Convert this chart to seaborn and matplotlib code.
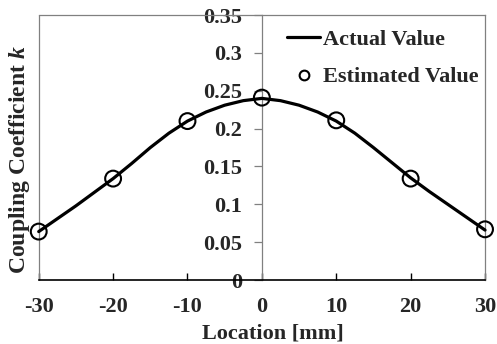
import matplotlib
matplotlib.use("Agg")
import matplotlib.pyplot as plt
import seaborn as sns
import pandas as pd
from matplotlib.lines import Line2D
from matplotlib.patches import Rectangle

# Coupling coefficient along the coil location
actual_loc = [-30, -27.5, -25, -22.5, -20, -17.5, -15, -12.5, -10, -7.5, -5, -2.5, 0,
              2.5, 5, 7.5, 10, 12.5, 15, 17.5, 20, 22.5, 25, 27.5, 30]
actual_k = [0.064, 0.081, 0.098, 0.116, 0.134, 0.154, 0.175, 0.194, 0.210, 0.222, 0.231, 0.237, 0.240,
            0.237, 0.231, 0.222, 0.210, 0.194, 0.175, 0.155, 0.135, 0.117, 0.100, 0.083, 0.066]
est_loc = [-30, -20, -10, 0, 10, 20, 30]
est_k = [0.064, 0.134, 0.210, 0.241, 0.211, 0.134, 0.067]

x_ticks = [-30, -20, -10, 0, 10, 20, 30]
y_ticks = [0, 0.05, 0.1, 0.15, 0.2, 0.25, 0.3, 0.35]
y_tick_labels = ["0", "0.05", "0.1", "0.15", "0.2", "0.25", "0.3", "0.35"]

sns.set_style("white")
plt.rcParams["font.family"] = ["Liberation Serif", "DejaVu Serif"]
plt.rcParams["font.weight"] = "bold"
plt.rcParams["axes.unicode_minus"] = False
plt.rcParams["mathtext.fontset"] = "custom"
plt.rcParams["mathtext.it"] = "Liberation Serif:italic:bold"
plt.rcParams["mathtext.rm"] = "Liberation Serif:bold"

FS = 16

fig = plt.figure(figsize=(4.97, 3.44), dpi=100)
ax = fig.add_axes([0.0779, 0.186, 0.898, 0.770])

df_a = pd.DataFrame({"loc": actual_loc, "k": actual_k})
df_e = pd.DataFrame({"loc": est_loc, "k": est_k})

sns.lineplot(data=df_a, x="loc", y="k", ax=ax, color="black", linewidth=2.3,
             legend=False, zorder=3, clip_on=False)
sns.scatterplot(data=df_e, x="loc", y="k", ax=ax, marker="o", s=130,
                facecolor="none", edgecolor="black", linewidth=1.5,
                legend=False, zorder=4, clip_on=False)

ax.set_xlim(-30, 30)
ax.set_ylim(0, 0.35)
ax.set_xticks(x_ticks)
ax.set_xticklabels([str(v) for v in x_ticks])
ax.set_yticks(y_ticks)
ax.set_yticklabels(y_tick_labels)

# y axis runs through location 0
ax.spines["left"].set_position(("data", 0))
ax.spines["left"].set_color("#808080")
ax.spines["left"].set_linewidth(0.9)
for side in ("top", "right"):
    ax.spines[side].set_visible(True)
    ax.spines[side].set_color("#808080")
    ax.spines[side].set_linewidth(0.9)
ax.spines["bottom"].set_color("black")
ax.spines["bottom"].set_linewidth(1.2)

# outer frame edge on the left
ax.add_patch(Rectangle((0, 0), 0, 1, transform=ax.transAxes, fill=False,
                       edgecolor="#808080", linewidth=0.9, clip_on=False, zorder=1))

ax.tick_params(axis="x", direction="in", length=5, width=1, color="black",
               labelsize=FS, pad=12, bottom=True)
ax.tick_params(axis="y", direction="out", length=6, width=0.9, color="#808080",
               labelsize=FS, pad=8, left=True)
for lab in ax.get_xticklabels() + ax.get_yticklabels():
    lab.set_fontweight("bold")

ax.set_xlabel("Location [mm]", fontsize=FS, fontweight="bold")
ax.xaxis.set_label_coords(0.525, -0.163, transform=ax.transAxes)
ax.set_ylabel(r"Coupling Coefficient $k$", fontsize=17, fontweight="bold")
ax.yaxis.set_label_coords(-0.014, 0.455, transform=ax.transAxes)

handles = [Line2D([], [], color="black", linewidth=2.3),
           Line2D([], [], linestyle="none", marker="o", markersize=7,
                  markerfacecolor="none", markeredgecolor="black", markeredgewidth=1.5)]
fig.legend(handles, ["Actual Value", "Estimated Value"], loc="upper left",
           bbox_to_anchor=(287 / 497, 1 - 29 / 344), frameon=False,
           borderaxespad=0, borderpad=0,
           handlelength=1.5, handletextpad=0.12, labelspacing=0.78,
           prop={"weight": "bold", "size": FS})

fig.savefig("out.png", dpi=100)
